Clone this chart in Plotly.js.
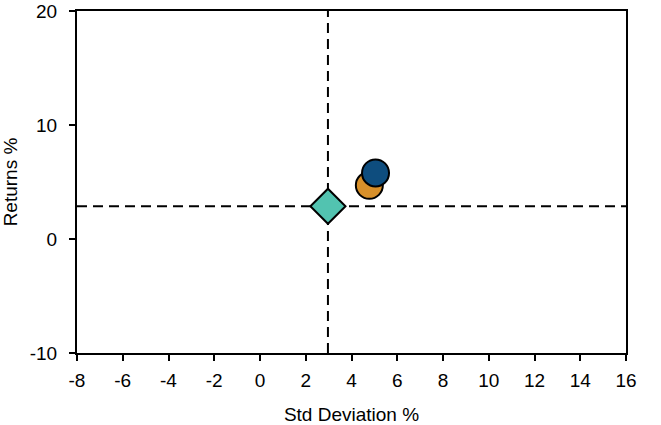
<!DOCTYPE html>
<html>
<head>
<meta charset="utf-8">
<script src="https://cdn.plot.ly/plotly-3.0.1.min.js"></script>
<style>html,body{margin:0;padding:0;background:#fff;}#chart{width:661px;height:425px;}</style>
</head>
<body>
<div id="chart"></div>
<script>
// Data
const seriesNames = ['Benchmark', 'Portfolio A', 'Portfolio B'];
const stdDev = [2.97, 4.78, 5.05];
const returns = [2.87, 4.71, 5.8];
const markerSymbols = ['diamond', 'circle', 'circle'];
const markerColors = ['#52c3b0', '#d8902a', '#0e4d7e'];
const xTicks = [-8, -6, -4, -2, 0, 2, 4, 6, 8, 10, 12, 14, 16];
const yTicks = [-10, 0, 10, 20];
const xRange = [-8, 16];
const yRange = [-10, 20];

const dashStyle = {color: '#000', width: 2, dash: '10px,6px'};
const traces = [
  {x: [stdDev[0], stdDev[0]], y: yRange, mode: 'lines', line: dashStyle, hoverinfo: 'skip', showlegend: false},
  {x: xRange, y: [returns[0], returns[0]], mode: 'lines', line: dashStyle, hoverinfo: 'skip', showlegend: false}
];
for (let i = 0; i < seriesNames.length; i++) {
  traces.push({
    x: [stdDev[i]], y: [returns[i]], name: seriesNames[i], mode: 'markers', showlegend: false,
    marker: {symbol: markerSymbols[i], size: 27, color: markerColors[i], line: {color: '#000', width: 2}}
  });
}

const font = {family: 'Liberation Sans, Arial, sans-serif', size: 19, color: '#000'};
const titleFont = {family: 'Liberation Sans, Arial, sans-serif', size: 19, color: '#000'};
const layout = {
  width: 661, height: 425,
  margin: {l: 77, r: 35, t: 11, b: 72},
  paper_bgcolor: '#fff', plot_bgcolor: '#fff',
  font: font,
  showlegend: false,
  xaxis: {
    range: xRange, tickvals: xTicks, ticktext: xTicks.map(String),
    showgrid: false, zeroline: false, showline: true, linecolor: '#000', linewidth: 2,
    mirror: true, ticks: 'outside', ticklen: 6, tickwidth: 2, tickcolor: '#000',
    ticklabelstandoff: 3, tickfont: font,
    title: {text: 'Std Deviation %', font: titleFont, standoff: 18}
  },
  yaxis: {
    range: yRange, tickvals: yTicks, ticktext: yTicks.map(String),
    showgrid: false, zeroline: false, showline: true, linecolor: '#000', linewidth: 2,
    mirror: true, ticks: 'outside', ticklen: 6, tickwidth: 2, tickcolor: '#000',
    ticklabelstandoff: 8, tickfont: font,
    title: {text: 'Returns %', font: titleFont, standoff: 8}
  }
};
Plotly.newPlot('chart', traces, layout, {displayModeBar: false, staticPlot: true});
</script>
</body>
</html>
